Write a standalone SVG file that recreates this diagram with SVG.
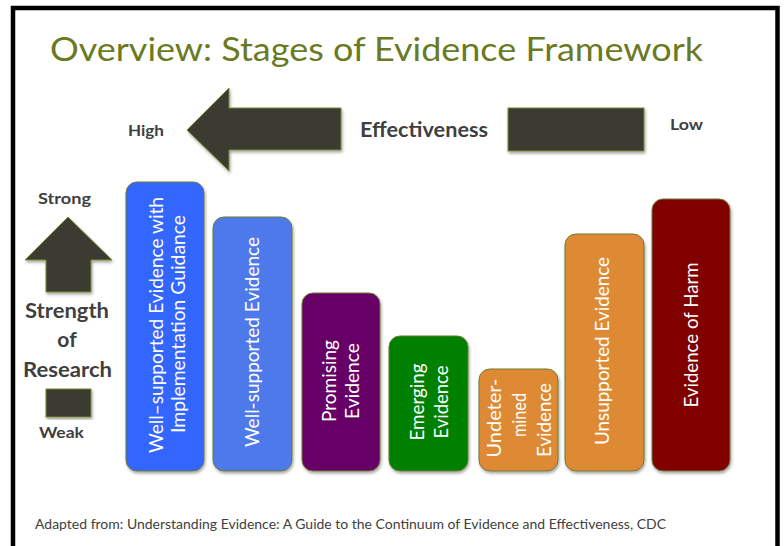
<svg xmlns="http://www.w3.org/2000/svg" width="784" height="546" viewBox="0 0 784 546">
<defs>
<style>
.lbl{font-family:Lato,"Open Sans","Liberation Sans",sans-serif;fill:#3f3f3f;font-weight:bold}
.bt{font-family:Lato,"Open Sans","Liberation Sans",sans-serif;fill:#ffffff;font-size:19px;text-anchor:middle}
.shape{fill:#3a3a31;stroke:#7a8a30;stroke-width:1}
.bar{stroke:#6f7a35;stroke-width:1}
</style>
<filter id="sh" x="-10%" y="-10%" width="120%" height="120%">
<feDropShadow dx="1" dy="2" stdDeviation="1.5" flood-color="#000" flood-opacity="0.35"/>
</filter>
</defs>
<rect x="0" y="0" width="784" height="546" fill="#ffffff"/>
<path d="M13 560 V8 H777.5 V560" fill="none" stroke="#000" stroke-width="4.5"/>
<text x="50" y="61" font-family="Lato,'Open Sans','Liberation Sans',sans-serif" font-size="33" fill="#6a7a22" textLength="653" lengthAdjust="spacingAndGlyphs">Overview: Stages of Evidence Framework</text>

<g id="effectiveness">
<path class="shape" filter="url(#sh)" d="M187 130 L229 88 L229 108 L341 108 L341 150 L229 150 L229 171 Z"/>
<rect class="shape" filter="url(#sh)" x="508" y="108" width="136" height="43"/>
<text class="lbl" x="128" y="136" font-size="15" textLength="36" lengthAdjust="spacingAndGlyphs">High</text>
<text class="lbl" x="360" y="137" font-size="20" font-weight="600" textLength="128" lengthAdjust="spacingAndGlyphs">Effectiveness</text>
<text class="lbl" x="670" y="130" font-size="15" textLength="33" lengthAdjust="spacingAndGlyphs">Low</text>
</g>

<g id="strength">
<path class="shape" filter="url(#sh)" d="M68 217 L112 260 L91 260 L91 292 L46 292 L46 260 L25 260 Z"/>
<rect class="shape" filter="url(#sh)" x="46" y="389" width="45" height="28"/>
<text class="lbl" x="38" y="204" font-size="15" textLength="53" lengthAdjust="spacingAndGlyphs">Strong</text>
<text class="lbl" x="25" y="318" font-size="21" textLength="84" lengthAdjust="spacingAndGlyphs">Strength</text>
<text class="lbl" x="67" y="347" font-size="21" text-anchor="middle">of</text>
<text class="lbl" x="23" y="377" font-size="21" textLength="89" lengthAdjust="spacingAndGlyphs">Research</text>
<text class="lbl" x="39" y="438" font-size="15" textLength="45" lengthAdjust="spacingAndGlyphs">Weak</text>
</g>

<g id="bar1">
<rect class="bar" filter="url(#sh)" x="126" y="182" width="78" height="289" rx="11" fill="#3366ff"/>
<text class="bt" transform="translate(163,325) rotate(-90)" textLength="256" lengthAdjust="spacingAndGlyphs">Well–supported Evidence with</text>
<text class="bt" transform="translate(185,324) rotate(-90)" textLength="218" lengthAdjust="spacingAndGlyphs">Implementation Guidance</text>
</g>
<g id="bar2">
<rect class="bar" filter="url(#sh)" x="213" y="217" width="79" height="254" rx="11" fill="#4d79ea"/>
<text class="bt" transform="translate(259,342) rotate(-90)" textLength="210" lengthAdjust="spacingAndGlyphs">Well-supported Evidence</text>
</g>
<g id="bar3">
<rect class="bar" filter="url(#sh)" x="302" y="293" width="78" height="178" rx="11" fill="#660066"/>
<text class="bt" transform="translate(336,381) rotate(-90)" textLength="82" lengthAdjust="spacingAndGlyphs">Promising</text>
<text class="bt" transform="translate(359,381) rotate(-90)" textLength="76" lengthAdjust="spacingAndGlyphs">Evidence</text>
</g>
<g id="bar4">
<rect class="bar" filter="url(#sh)" x="389" y="336" width="79" height="135" rx="11" fill="#008000"/>
<text class="bt" transform="translate(424,402) rotate(-90)" textLength="77" lengthAdjust="spacingAndGlyphs">Emerging</text>
<text class="bt" transform="translate(448,402) rotate(-90)" textLength="73" lengthAdjust="spacingAndGlyphs">Evidence</text>
</g>
<g id="bar5">
<rect class="bar" filter="url(#sh)" x="479" y="369" width="79" height="102" rx="11" fill="#de8a34"/>
<text class="bt" transform="translate(501,418) rotate(-90)" textLength="79" lengthAdjust="spacingAndGlyphs">Undeter-</text>
<text class="bt" transform="translate(526,415) rotate(-90)" textLength="44" lengthAdjust="spacingAndGlyphs">mined</text>
<text class="bt" transform="translate(551,420) rotate(-90)" textLength="74" lengthAdjust="spacingAndGlyphs">Evidence</text>
</g>
<g id="bar6">
<rect class="bar" filter="url(#sh)" x="565" y="234" width="79" height="237" rx="11" fill="#de8a34"/>
<text class="bt" transform="translate(609,351) rotate(-90)" textLength="188" lengthAdjust="spacingAndGlyphs">Unsupported Evidence</text>
</g>
<g id="bar7">
<rect class="bar" filter="url(#sh)" x="652" y="199" width="78" height="272" rx="11" fill="#800000"/>
<text class="bt" transform="translate(698,335) rotate(-90)" textLength="145" lengthAdjust="spacingAndGlyphs">Evidence of Harm</text>
</g>

<text x="35" y="529" font-family="Lato,'Open Sans','Liberation Sans',sans-serif" font-size="13" fill="#404040" textLength="631" lengthAdjust="spacingAndGlyphs">Adapted from: Understanding Evidence: A Guide to the Continuum of Evidence and Effectiveness, CDC</text>
</svg>
